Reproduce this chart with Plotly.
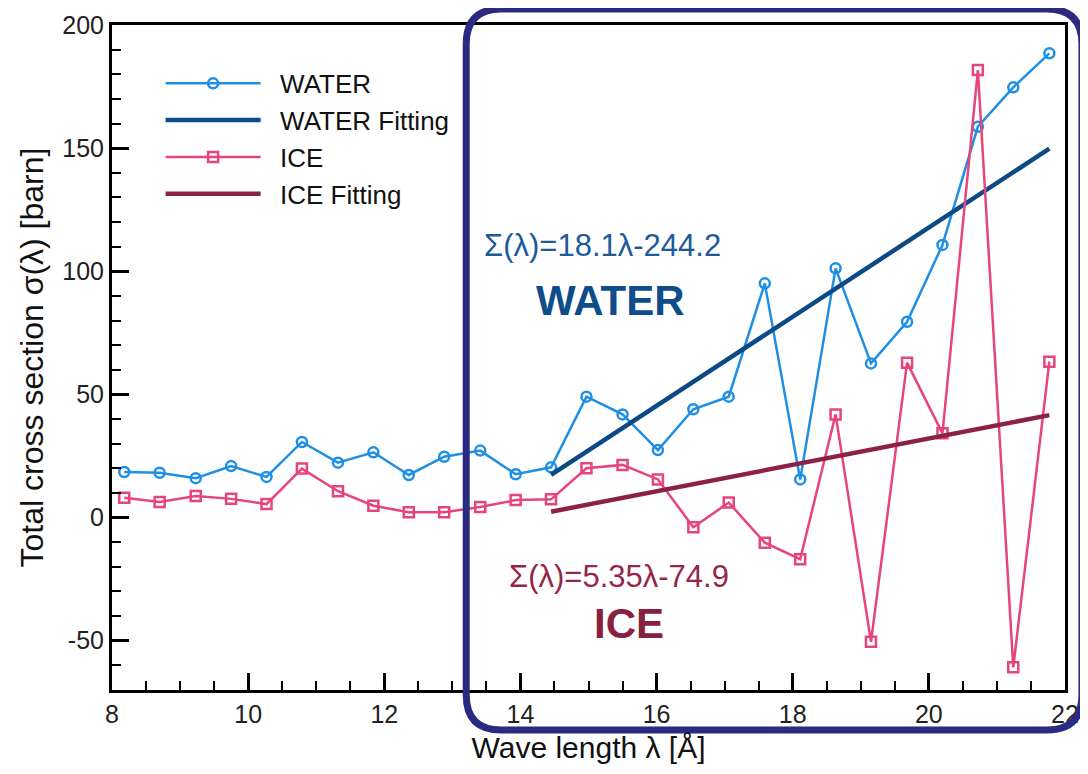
import plotly.graph_objects as go

# ---- data ----
wavelength = [8.18, 8.70, 9.23, 9.75, 10.27, 10.79, 11.32, 11.84, 12.36, 12.88,
              13.41, 13.93, 14.45, 14.97, 15.50, 16.02, 16.54, 17.06, 17.59, 18.11,
              18.63, 19.15, 19.68, 20.20, 20.72, 21.24, 21.77]
water = [18.5, 18.2, 16.0, 20.9, 16.5, 30.7, 22.3, 26.5, 17.3, 24.7,
         27.2, 17.6, 20.4, 49.1, 41.9, 27.4, 44.0, 49.1, 95.1, 15.5,
         101.2, 62.6, 79.5, 110.7, 158.7, 174.7, 188.5]
ice = [8.1, 6.3, 8.8, 7.6, 5.5, 19.9, 10.7, 4.8, 2.2, 2.2,
       4.3, 7.1, 7.4, 20.0, 21.4, 15.5, -3.9, 6.1, -10.2, -16.9,
       41.9, -50.4, 62.9, 34.2, 181.7, -60.8, 63.3]
fit_x = [14.45, 21.77]
water_fit = [17.3, 149.8]
ice_fit = [2.4, 41.6]

x_ticks = [8, 10, 12, 14, 16, 18, 20, 22]
x_ticktext = ["8", "10", "12", "14", "16", "18", "20", "22"]
y_ticks = [-50, 0, 50, 100, 150, 200]
y_ticktext = ["-50", "0", "50", "100", "150", "200"]

C_WATER = "#1f8fe6"
C_WATER_FIT = "#0c4a86"
C_ICE = "#e8447c"
C_ICE_FIT = "#8c2148"
C_BOX = "#2a2a80"
FONT = "Liberation Sans, Arial, Helvetica, sans-serif"
GAP = "\u00a0\u00a0"

fig = go.Figure()
fig.add_trace(go.Scatter(x=wavelength, y=water, name=GAP + "WATER", mode="lines+markers",
                         line=dict(color=C_WATER, width=2.5),
                         marker=dict(symbol="circle-open", size=10, color=C_WATER,
                                     line=dict(width=2.5, color=C_WATER))))
fig.add_trace(go.Scatter(x=fit_x, y=water_fit, name=GAP + "WATER Fitting", mode="lines",
                         line=dict(color=C_WATER_FIT, width=4.5)))
fig.add_trace(go.Scatter(x=wavelength, y=ice, name=GAP + "ICE", mode="lines+markers",
                         line=dict(color=C_ICE, width=2.5),
                         marker=dict(symbol="square-open", size=10, color=C_ICE,
                                     line=dict(width=2.5, color=C_ICE))))
fig.add_trace(go.Scatter(x=fit_x, y=ice_fit, name=GAP + "ICE Fitting", mode="lines",
                         line=dict(color=C_ICE_FIT, width=4.5)))

# rounded highlight box (paper coordinates)
L, R, T, B = 0.3717, 1.0178, 1.0241, -0.0602
rx, ry = 0.0366, 0.0526
box_path = (f"M{L+rx},{T} L{R-rx},{T} Q{R},{T} {R},{T-ry} L{R},{B+ry} Q{R},{B} {R-rx},{B} "
            f"L{L+rx},{B} Q{L},{B} {L},{B+ry} L{L},{T-ry} Q{L},{T} {L+rx},{T} Z")
fig.add_shape(type="path", path=box_path, xref="paper", yref="paper",
              line=dict(color=C_BOX, width=7), layer="above")

fig.add_annotation(x=15.2, y=110.3, text="Σ(λ)=18.1λ-244.2", showarrow=False,
                   font=dict(size=31, color="#1c5a9a", family=FONT))
fig.add_annotation(x=15.32, y=88.3, text="<b>WATER</b>", showarrow=False,
                   font=dict(size=42, color="#0e4c8c", family=FONT))
fig.add_annotation(x=15.45, y=-24.1, text="Σ(λ)=5.35λ-74.9", showarrow=False,
                   font=dict(size=31, color="#962648", family=FONT))
fig.add_annotation(x=15.59, y=-42.8, text="<b>ICE</b>", showarrow=False,
                   font=dict(size=42, color="#8a2040", family=FONT))

axis_common = dict(showline=True, linecolor="black", linewidth=3, mirror=True,
                   ticks="inside", tickcolor="black", tickwidth=3, ticklen=17,
                   showgrid=False, zeroline=False, automargin=False,
                   tickfont=dict(size=25, color="#222", family=FONT))
fig.update_xaxes(range=[8, 22], tickvals=x_ticks, ticktext=x_ticktext,
                 minor=dict(dtick=0.5, ticks="inside", ticklen=9, tickwidth=2, tickcolor="black"),
                 title=dict(text="Wave length λ [Å]", font=dict(size=30, color="#111", family=FONT),
                            standoff=10),
                 **axis_common)
fig.update_yaxes(range=[-70, 200], tickvals=y_ticks, ticktext=y_ticktext,
                 minor=dict(dtick=10, ticks="inside", ticklen=9, tickwidth=2, tickcolor="black"),
                 title=dict(text="Total cross section σ(λ) [barn]",
                            font=dict(size=32, color="#111", family=FONT), standoff=10),
                 **axis_common)

# page body has an 8px default margin; size the figure to fit the 1088x774 window
fig.update_layout(width=1080, height=766, margin=dict(l=104, r=23, t=17, b=84),
                  paper_bgcolor="white", plot_bgcolor="white",
                  font=dict(family=FONT),
                  showlegend=True,
                  legend=dict(x=0.051, y=0.9475, xanchor="left", yanchor="top",
                              bgcolor="rgba(0,0,0,0)", itemwidth=95,
                              font=dict(size=26, color="#111", family=FONT)))

fig.write_html("out.html")
